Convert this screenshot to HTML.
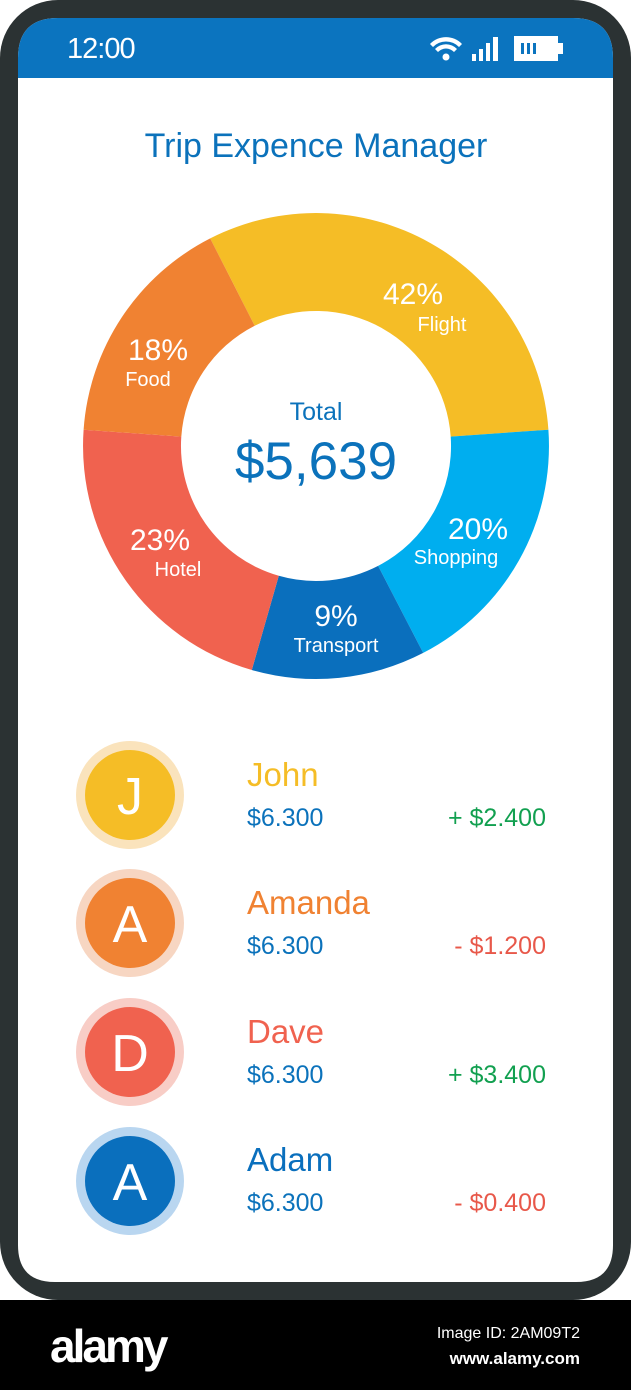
<!DOCTYPE html>
<html><head><meta charset="utf-8"><style>
html,body{margin:0;padding:0;width:631px;height:1390px;overflow:hidden;background:#fff;}
svg{display:block;font-family:"Liberation Sans",sans-serif;}
</style></head><body>
<svg width="631" height="1390" viewBox="0 0 631 1390">
<rect x="0" y="0" width="631" height="1300" rx="58" fill="#2b3233"/>
<rect x="0" y="1300" width="631" height="90" fill="#000"/>
<path d="M18 1245 V58 Q18 18 58 18 H573 Q613 18 613 58 V1245 Q613 1282 576 1282 H55 Q18 1282 18 1245 Z" fill="#fff"/>
<path d="M18 78 V58 Q18 18 58 18 H573 Q613 18 613 58 V78 Z" fill="#0b74bf"/>
<text x="67" y="58" font-size="29" fill="#fff" letter-spacing="-1">12:00</text>
<g fill="#fff">
<path d="M430 44 A22 22 0 0 1 462 44 L459 47 A18 18 0 0 0 433 47 Z"/>
<path d="M435 49 A15 15 0 0 1 457 49 L454 52 A11 11 0 0 0 438 52 Z"/>
<circle cx="446" cy="57" r="3.5"/>
<rect x="472" y="54" width="4" height="7"/><rect x="479" y="49" width="4" height="12"/><rect x="486" y="43" width="4" height="18"/><rect x="493" y="37" width="5" height="24"/>
<rect x="514" y="36" width="44" height="25"/><rect x="558" y="43" width="5" height="11"/>
</g>
<g fill="#0b74bf"><rect x="521" y="43" width="3" height="11"/><rect x="527" y="43" width="3" height="11"/><rect x="533" y="43" width="3" height="11"/></g>
<text x="316" y="157" font-size="34" fill="#0b72bb" text-anchor="middle">Trip Expence Manager</text>
<path d="M210.2 238.4 A233 233 0 0 1 548.4 429.7 L450.7 436.6 A135 135 0 0 0 254.7 325.7 Z" fill="#f5bd26"/>
<path d="M548.4 429.7 A233 233 0 0 1 423.2 652.9 L378.1 565.9 A135 135 0 0 0 450.7 436.6 Z" fill="#00aeef"/>
<path d="M423.2 652.9 A233 233 0 0 1 251.8 670.0 L278.8 575.8 A135 135 0 0 0 378.1 565.9 Z" fill="#0a6fbd"/>
<path d="M251.8 670.0 A233 233 0 0 1 83.6 429.7 L181.3 436.6 A135 135 0 0 0 278.8 575.8 Z" fill="#f0624f"/>
<path d="M83.6 429.7 A233 233 0 0 1 210.2 238.4 L254.7 325.7 A135 135 0 0 0 181.3 436.6 Z" fill="#f08232"/>
<g fill="#fff" text-anchor="middle">
<text x="413" y="304" font-size="30">42%</text><text x="442" y="331" font-size="20">Flight</text>
<text x="158" y="360" font-size="30">18%</text><text x="148" y="386" font-size="20">Food</text>
<text x="160" y="550" font-size="30">23%</text><text x="178" y="576" font-size="20">Hotel</text>
<text x="336" y="626" font-size="30">9%</text><text x="336" y="652" font-size="20">Transport</text>
<text x="478" y="539" font-size="30">20%</text><text x="456" y="564" font-size="20">Shopping</text>
</g>
<text x="316" y="420" font-size="25" fill="#0b72bb" text-anchor="middle">Total</text>
<text x="316" y="479" font-size="53" fill="#0b72bb" text-anchor="middle">$5,639</text>
<g font-size="25">
<circle cx="130" cy="795" r="54" fill="#fae3bc"/><circle cx="130" cy="795" r="45" fill="#f5bd26"/>
<text x="130" y="814" font-size="52" fill="#fff" text-anchor="middle">J</text>
<text x="247" y="786" font-size="33" fill="#f5bd26">John</text>
<text x="247" y="826" fill="#0b72bb">$6.300</text><text x="546" y="826" fill="#12a050" text-anchor="end">+ $2.400</text>

<circle cx="130" cy="923" r="54" fill="#f7d6c2"/><circle cx="130" cy="923" r="45" fill="#f08232"/>
<text x="130" y="942" font-size="52" fill="#fff" text-anchor="middle">A</text>
<text x="247" y="914" font-size="33" fill="#f08232">Amanda</text>
<text x="247" y="954" fill="#0b72bb">$6.300</text><text x="546" y="954" fill="#e8584a" text-anchor="end">- $1.200</text>

<circle cx="130" cy="1052" r="54" fill="#f8cdc6"/><circle cx="130" cy="1052" r="45" fill="#f0624f"/>
<text x="130" y="1071" font-size="52" fill="#fff" text-anchor="middle">D</text>
<text x="247" y="1043" font-size="33" fill="#f0624f">Dave</text>
<text x="247" y="1083" fill="#0b72bb">$6.300</text><text x="546" y="1083" fill="#12a050" text-anchor="end">+ $3.400</text>

<circle cx="130" cy="1181" r="54" fill="#b9d6f0"/><circle cx="130" cy="1181" r="45" fill="#0a6fbd"/>
<text x="130" y="1200" font-size="52" fill="#fff" text-anchor="middle">A</text>
<text x="247" y="1171" font-size="33" fill="#0a6fbd">Adam</text>
<text x="247" y="1211" fill="#0b72bb">$6.300</text><text x="546" y="1211" fill="#e8584a" text-anchor="end">- $0.400</text>
</g>
<text x="50" y="1362" font-size="46" font-weight="bold" fill="#fff" letter-spacing="-3">alamy</text>
<text x="580" y="1338" font-size="16" fill="#fff" text-anchor="end">Image ID: 2AM09T2</text>
<text x="580" y="1364" font-size="17" font-weight="bold" fill="#fff" text-anchor="end">www.alamy.com</text>
</svg>
</body></html>
